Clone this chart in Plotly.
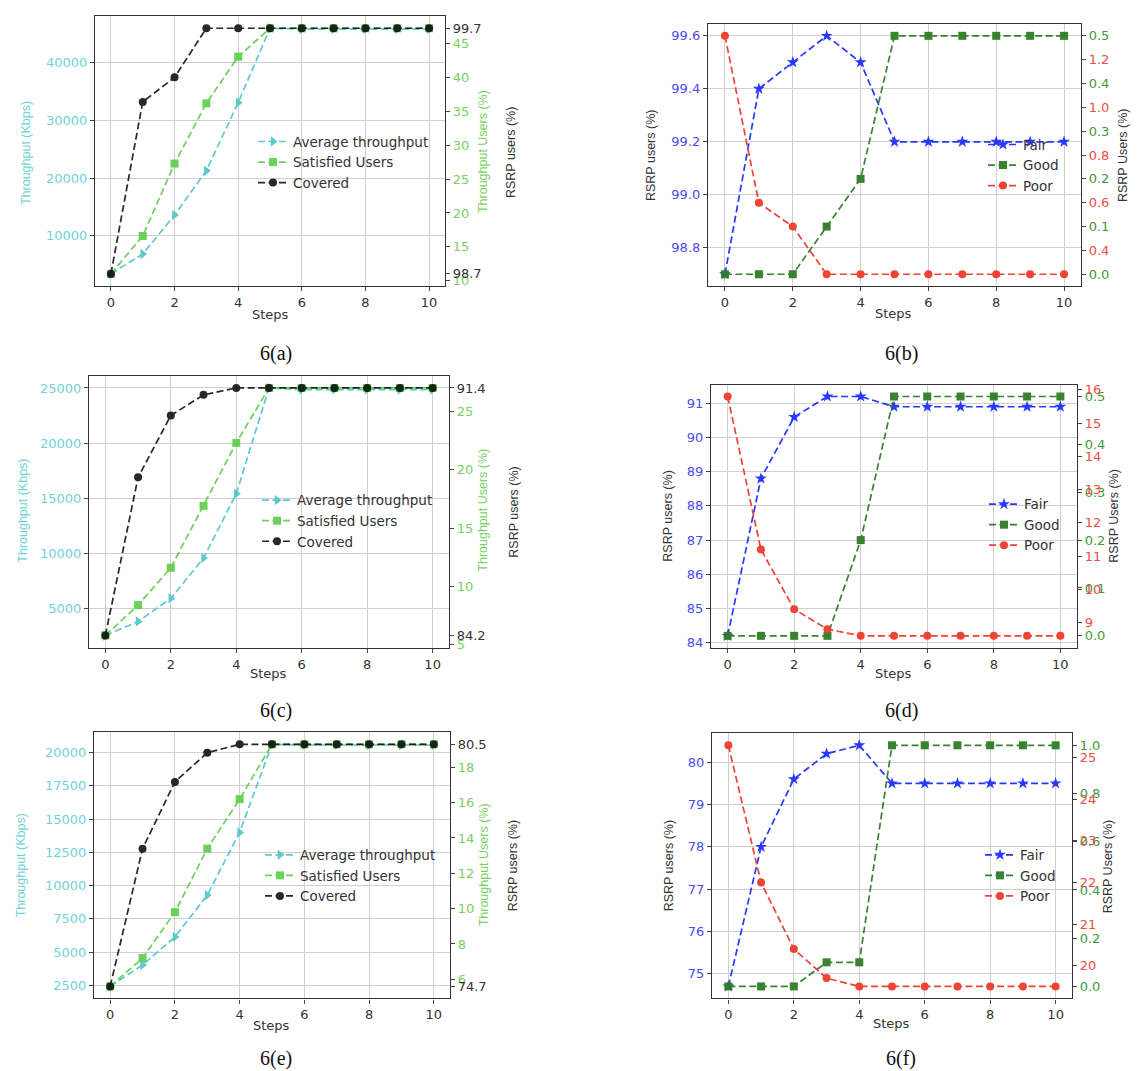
import plotly.graph_objects as go

W, H = 1142, 1071

steps = list(range(11))

# ---- data ----
a_thr = [3400, 6850, 13600, 21300, 33100, 46000, 45850, 45850, 45850, 45850, 45850]
a_sat = [11.0, 16.6, 27.3, 36.2, 43.1, 47.3, 47.3, 47.3, 47.3, 47.3, 47.3]
a_cov = [98.7, 99.4, 99.5, 99.7, 99.7, 99.7, 99.7, 99.7, 99.7, 99.7, 99.7]

b_fair = [98.7, 99.4, 99.5, 99.6, 99.5, 99.2, 99.2, 99.2, 99.2, 99.2, 99.2]
b_good = [0.0, 0.0, 0.0, 0.1, 0.2, 0.5, 0.5, 0.5, 0.5, 0.5, 0.5]
b_poor = [1.3, 0.6, 0.5, 0.3, 0.3, 0.3, 0.3, 0.3, 0.3, 0.3, 0.3]

c_thr = [2540, 3800, 5900, 9560, 15400, 25000, 24850, 24850, 24850, 24850, 24850]
c_sat = [5.8, 8.4, 11.6, 16.9, 22.3, 27.0, 27.0, 27.0, 27.0, 27.0, 27.0]
c_cov = [84.2, 88.8, 90.6, 91.2, 91.4, 91.4, 91.4, 91.4, 91.4, 91.4, 91.4]

d_fair = [84.2, 88.8, 90.6, 91.2, 91.2, 90.9, 90.9, 90.9, 90.9, 90.9, 90.9]
d_good = [0.0, 0.0, 0.0, 0.0, 0.2, 0.5, 0.5, 0.5, 0.5, 0.5, 0.5]
d_poor = [15.8, 11.2, 9.4, 8.8, 8.6, 8.6, 8.6, 8.6, 8.6, 8.6, 8.6]

e_thr = [2420, 4030, 6140, 9280, 14000, 20620, 20570, 20570, 20570, 20570, 20570]
e_sat = [5.6, 7.2, 9.8, 13.4, 16.2, 19.3, 19.3, 19.3, 19.3, 19.3, 19.3]
e_cov = [74.7, 78.0, 79.6, 80.3, 80.5, 80.5, 80.5, 80.5, 80.5, 80.5, 80.5]

f_fair = [74.7, 78.0, 79.6, 80.2, 80.4, 79.5, 79.5, 79.5, 79.5, 79.5, 79.5]
f_good = [0.0, 0.0, 0.0, 0.1, 0.1, 1.0, 1.0, 1.0, 1.0, 1.0, 1.0]
f_poor = [25.3, 22.0, 20.4, 19.7, 19.5, 19.5, 19.5, 19.5, 19.5, 19.5, 19.5]

captions = ["6(a)", "6(b)", "6(c)", "6(d)", "6(e)", "6(f)"]
thr_names = ["Average throughput", "Satisfied Users", "Covered"]
rsrp_names = ["Fair", "Good", "Poor"]

# ---- styles ----
CYAN = "#4fc4c9"
CYAN_T = "#6fd3d6"
LGREEN = "#5dcc4a"
LGREEN_T = "#77d162"
BLACK = "#111111"
BLUE = "#1f2fff"
BLUE_T = "#4b4bf0"
DGREEN = "#2e7d24"
DGREEN_T = "#3f9a3a"
RED = "#ee3a2c"
RED_T = "#ee4c44"
TXT = "#333333"
FONT = "DejaVu Sans"
TFONT = "Liberation Sans"
TICK_SIZE = 13
LEG_SIZE = 13.5

# panel boxes in pixels: left, right, top, bottom
boxes = [
    (87, 437, 6, 278),
    (700, 1073, 14, 278),
    (81, 441, 368, 642),
    (703, 1069, 377, 642),
    (86, 442, 727, 995),
    (704, 1064, 728, 995),
]


def px(x, y):
    return x / W, 1 - y / H


def pad(vals):
    lo, hi = min(vals), max(vals)
    d = hi - lo
    return [lo - 0.05 * d, hi + 0.05 * d]


fig = go.Figure()
layout = dict(
    width=W, height=H, margin=dict(l=0, r=0, t=0, b=0),
    paper_bgcolor="white", plot_bgcolor="white", showlegend=True,
)
annotations = []

DASH = "7px,3.5px"


def tick_axis(color, **kw):
    d = dict(ticks="outside", ticklen=4, tickwidth=1, tickcolor="#444",
             tickfont=dict(family=FONT, size=TICK_SIZE, color=color),
             showgrid=False, zeroline=False, showline=True, linecolor="#333", linewidth=1.2)
    d.update(kw)
    return d


panels = [
    ("thr", a_thr, a_sat, a_cov, 10000, 5, None),
    ("rsrp", b_fair, b_good, b_poor, 0.2, 0.1, 0.2),
    ("thr", c_thr, c_sat, c_cov, 5000, 5, None),
    ("rsrp", d_fair, d_good, d_poor, 1, 0.1, 1),
    ("thr", e_thr, e_sat, e_cov, 2500, 2, None),
    ("rsrp", f_fair, f_good, f_poor, 1, 0.2, 1),
]

# annotation positions for axis titles (pixels)
title_pos = [
    dict(left=(18, 144), r1=(475, 143), r2=(503, 144), steps=(262, 306), cap=(268, 346)),
    dict(left=(643, 147), r1=(1115, 146), steps=(885, 305), cap=(893, 346)),
    dict(left=(15, 504), r1=(475, 504), r2=(506, 506), steps=(260, 668), cap=(268, 705)),
    dict(left=(660, 510), r1=(1106, 509), steps=(885, 668), cap=(893, 705)),
    dict(left=(13, 861), r1=(476, 861), r2=(505, 862), steps=(263, 1022), cap=(268, 1055)),
    dict(left=(661, 862), r1=(1100, 862), steps=(883, 1020), cap=(893, 1055)),
]
legend_pos = [(245, 117), (975, 120), (249, 478), (976, 482), (252, 835), (972, 835)]

for i, (kind, s1, s2, s3, dt1, dt2, dt3) in enumerate(panels):
    l, r, t, b = boxes[i]
    xn = i + 1
    y1, y2, y3 = 3 * i + 1, 3 * i + 2, 3 * i + 3
    xk = "xaxis" if xn == 1 else f"xaxis{xn}"
    xr = "x" if xn == 1 else f"x{xn}"
    yk = lambda n: "yaxis" if n == 1 else f"yaxis{n}"
    yr = lambda n: "y" if n == 1 else f"y{n}"
    xd = [l / W, r / W]
    yd = [1 - b / H, 1 - t / H]
    leg = "legend" if i == 0 else f"legend{i + 1}"

    layout[xk] = dict(domain=xd, anchor=yr(y1), range=[-0.5, 10.5], dtick=2,
                      ticks="outside", ticklen=4, tickcolor="#444",
                      tickfont=dict(family=FONT, size=TICK_SIZE, color=TXT),
                      showgrid=True, gridcolor="#cfcfcf", gridwidth=1, zeroline=False,
                      showline=True, mirror=True, linecolor="#333", linewidth=1.2)

    if kind == "thr":
        c1, c1t, c2, c2t, c3, c3t = CYAN, CYAN_T, LGREEN, LGREEN_T, BLACK, TXT
        syms = ["triangle-right", "square", "circle"]
        names = thr_names
        fmt1 = "d"
    else:
        c1, c1t, c2, c2t, c3, c3t = BLUE, BLUE_T, DGREEN, DGREEN_T, RED, RED_T
        syms = ["star", "square", "circle"]
        names = rsrp_names
        fmt1 = ".1f" if dt1 < 1 else "d"

    layout[yk(y1)] = tick_axis(c1t, domain=yd, anchor=xr, range=pad(s1), dtick=dt1,
                               showgrid=True, gridcolor="#cfcfcf", gridwidth=1,
                               mirror=True, tickformat=fmt1)
    layout[yk(y2)] = tick_axis(c2t, domain=yd, anchor=xr, overlaying=yr(y1), side="right",
                               range=pad(s2), dtick=dt2,
                               tickformat=(".1f" if dt2 < 1 else "d"))
    if kind == "thr":
        tv = [min(s3), max(s3)]
        layout[yk(y3)] = tick_axis(TXT, domain=yd, anchor=xr, overlaying=yr(y1), side="right",
                                   range=pad(s3), tickmode="array", tickvals=tv,
                                   ticktext=[f"{v:.1f}" for v in tv])
    else:
        layout[yk(y3)] = tick_axis(c3t, domain=yd, anchor=xr, overlaying=yr(y1), side="right",
                                   range=pad(s3), dtick=dt3,
                                   tickformat=(".1f" if dt3 < 1 else "d"))

    sizes = [9, 8, 8]
    for s, col, sym, nm, yy, sz in zip([s1, s2, s3], [c1, c2, c3], syms, names, [y1, y2, y3], sizes):
        fig.add_trace(go.Scatter(
            x=steps, y=s, name=nm, mode="lines+markers",
            line=dict(color=col, width=1.7, dash=DASH),
            marker=dict(symbol=sym, size=sz, color=col),
            opacity=0.9 if kind == "thr" else 0.95,
            xaxis=xr, yaxis=yr(yy), legend=leg,
        ))

    lx, ly = px(*legend_pos[i])
    layout[leg] = dict(x=lx, y=ly, xanchor="left", yanchor="top",
                       bgcolor="rgba(0,0,0,0)", borderwidth=0,
                       font=dict(family=FONT, size=LEG_SIZE, color=TXT), itemwidth=30)

    tp = title_pos[i]
    if kind == "thr":
        titles = [("left", "Throughput (Kbps)", CYAN_T), ("r1", "Throughput Users (%)", LGREEN_T),
                  ("r2", "RSRP users (%)", TXT)]
    else:
        titles = [("left", "RSRP users (%)", TXT), ("r1", "RSRP Users (%)", TXT)]
    for key, txt, col in titles:
        ax_, ay_ = px(*tp[key])
        annotations.append(dict(x=ax_, y=ay_, xref="paper", yref="paper", text=txt,
                                textangle=-90, showarrow=False, xanchor="center", yanchor="middle",
                                font=dict(family=TFONT, size=12.5, color=col)))
    sx, sy = px(*tp["steps"])
    annotations.append(dict(x=sx, y=sy, xref="paper", yref="paper", text="Steps", showarrow=False,
                            xanchor="center", yanchor="middle",
                            font=dict(family=FONT, size=TICK_SIZE, color=TXT)))
    cx, cy = px(*tp["cap"])
    annotations.append(dict(x=cx, y=cy, xref="paper", yref="paper", text=captions[i], showarrow=False,
                            xanchor="center", yanchor="middle",
                            font=dict(family="Liberation Serif", size=20, color="#111")))

layout["annotations"] = annotations
fig.update_layout(**layout)
fig.write_html("out.html")
